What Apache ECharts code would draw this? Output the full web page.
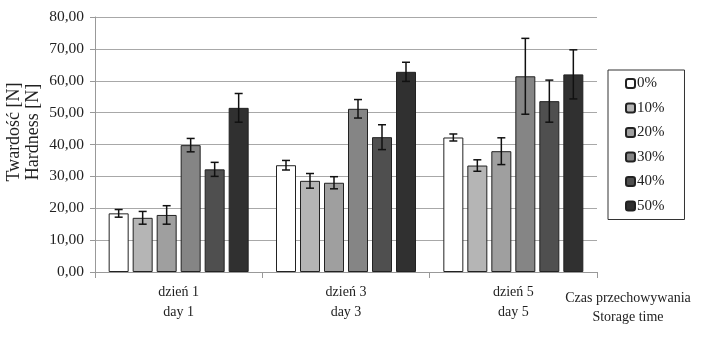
<!DOCTYPE html>
<html><head><meta charset="utf-8">
<script src="https://cdn.jsdelivr.net/npm/echarts@6/dist/echarts.min.js"></script>
<style>html,body{margin:0;padding:0;background:#fff}#c{width:708px;height:337px}</style>
</head><body><div id="c"></div>
<script>
const categories = ['dzień 1\nday 1', 'dzień 3\nday 3', 'dzień 5\nday 5'];
const seriesNames = ['0%', '10%', '20%', '30%', '40%', '50%'];
const values0  = [18.4, 33.5, 42.2];
const values10 = [17.0, 28.6, 33.4];
const values20 = [17.9, 28.0, 37.9];
const values30 = [39.8, 51.2, 61.4];
const values40 = [32.2, 42.3, 53.6];
const values50 = [51.5, 62.8, 62.0];
const err0  = [1.2, 1.5, 1.1];
const err10 = [2.0, 2.3, 1.8];
const err20 = [2.9, 1.9, 4.2];
const err30 = [2.1, 2.9, 11.9];
const err40 = [2.2, 3.9, 6.6];
const err50 = [4.5, 3.0, 7.7];
const yTicks = [0, 10, 20, 30, 40, 50, 60, 70, 80];

const allValues = [values0, values10, values20, values30, values40, values50];
const allErr = [err0, err10, err20, err30, err40, err50];
const colors = ['#ffffff', '#b5b5b5', '#9f9f9f', '#858585', '#4f4f4f', '#303030'];
const FONT = 'Liberation Serif';
const BW = 20, GAP = 4;

const chart = echarts.init(document.getElementById('c'));
const series = [];
seriesNames.forEach((n, i) => {
  series.push({
    name: n, type: 'bar', data: allValues[i], barWidth: BW, barGap: (GAP / BW * 100) + '%',
    itemStyle: { color: colors[i], borderColor: '#222', borderWidth: 1 },
    animation: false
  });
});
seriesNames.forEach((n, i) => {
  series.push({
    type: 'custom', name: n + ' err', silent: true, animation: false, z: 10,
    data: allValues[i].map((v, k) => [k, v, allErr[i][k]]),
    renderItem: function (params, api) {
      const k = api.value(0), v = api.value(1), e = api.value(2);
      const off = (i - 2.5) * (BW + GAP);
      const hi = api.coord([k, v + e]);
      const lo = api.coord([k, v - e]);
      const x = hi[0] + off;
      const cap = 4;
      const st = { stroke: '#111', lineWidth: 1.5 };
      return { type: 'group', children: [
        { type: 'line', shape: { x1: x, y1: hi[1], x2: x, y2: lo[1] }, style: st },
        { type: 'line', shape: { x1: x - cap, y1: hi[1], x2: x + cap, y2: hi[1] }, style: st },
        { type: 'line', shape: { x1: x - cap, y1: lo[1], x2: x + cap, y2: lo[1] }, style: st }
      ]};
    }
  });
});

chart.setOption({
  animation: false,
  textStyle: { fontFamily: FONT },
  grid: { left: 95, right: 111, top: 17, bottom: 65, containLabel: false, outerBoundsMode: 'none' },
  legend: {
    data: seriesNames, orient: 'vertical', left: 608, top: 70,
    itemWidth: 9, itemHeight: 9, itemGap: 9.5,
    padding: [6, 20, 6, 17],
    borderColor: '#333', borderWidth: 1,
    textStyle: { fontFamily: FONT, fontSize: 15, color: '#222', padding: [0, 0, 0, -3] }
  },
  xAxis: {
    type: 'category', data: categories,
    axisLine: { lineStyle: { color: '#999' } },
    axisTick: { show: true, length: 6, lineStyle: { color: '#999' } },
    axisLabel: { fontFamily: FONT, fontSize: 14, color: '#222', lineHeight: 20, margin: 10 }
  },
  yAxis: {
    type: 'value', min: yTicks[0], max: yTicks[yTicks.length - 1], interval: 10,
    axisLine: { show: true, lineStyle: { color: '#999' } },
    axisTick: { show: true, length: 5, lineStyle: { color: '#999' } },
    splitLine: { lineStyle: { color: '#a8a8a8', width: 1 } },
    axisLabel: { fontFamily: FONT, fontSize: 15.5, color: '#222', margin: 11,
      formatter: v => v.toFixed(2).replace('.', ',') }
  },
  graphic: [{
    type: 'text', x: 628, y: 289,
    style: { text: 'Czas przechowywania\nStorage time', fontFamily: FONT, fontSize: 14,
      fill: '#222', align: 'center', verticalAlign: 'top', lineHeight: 19 }
  }, {
    type: 'text', x: 24, y: 132, rotation: Math.PI / 2,
    style: { text: 'Twardość [N]\nHardness [N]', fontFamily: FONT, fontSize: 18,
      fill: '#222', align: 'center', verticalAlign: 'middle', lineHeight: 19 }
  }],
  series: series
});
</script></body></html>
